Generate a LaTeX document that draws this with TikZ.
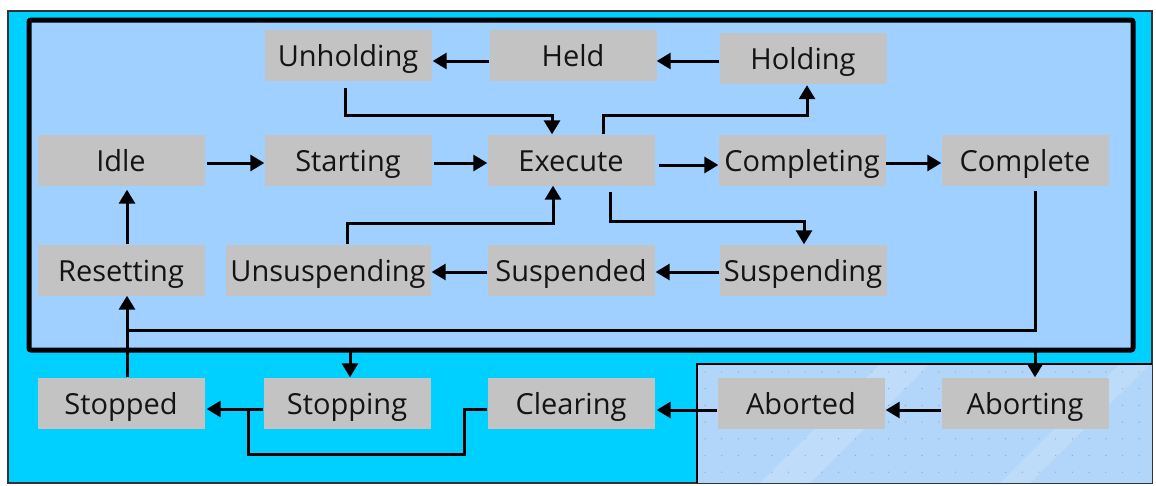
\documentclass[tikz,border=0pt]{standalone}
\usepackage{fontspec}
\setmainfont{Open Sans}
\usetikzlibrary{arrows.meta}
\definecolor{outercyan}{RGB}{0,208,255}
\definecolor{innerblue}{RGB}{160,208,255}
\definecolor{statefill}{RGB}{195,195,195}
\definecolor{panelblue}{RGB}{178,214,250}
\definecolor{statetext}{RGB}{20,20,20}

\begin{document}
\begin{tikzpicture}[x=1pt,y=-1pt,
  state/.style={fill=statefill, minimum width=167pt, minimum height=51pt,
    inner sep=0pt, text height=22pt, text depth=0pt, text=statetext,
    font=\fontsize{29}{32}\selectfont},
  flow/.style={line width=3pt, -{Triangle[length=14pt,width=16pt]}},
  plain/.style={line width=3pt}]

\useasboundingbox (0,0) rectangle (1156,485);
\fill[white] (0,0) rectangle (1156,485);

% outer frame
\draw[fill=outercyan, draw=black!80, line width=1.5pt] (8,11) rectangle (1152,483);

% lower right panel with dotted grid
\fill[panelblue] (697,364) rectangle (1152,483);
\begin{scope}
  \clip (697,364) rectangle (1152,483);
  \fill[white, opacity=0.18] (760,483) -- (880,364) -- (930,364) -- (810,483) -- cycle;
  \fill[white, opacity=0.15] (1000,483) -- (1120,364) -- (1150,364) -- (1030,483) -- cycle;
  \foreach \i in {0,...,27} {
    \foreach \j in {0,...,7} {
      \fill[gray!70] (705+\i*16.7, 372+\j*16.7) circle (0.7);
    }
  }
\end{scope}
\draw[line width=2pt] (697,483) -- (697,364) -- (1152,364);

% inner frame
\draw[fill=innerblue, line width=5pt, rounded corners=2pt] (29,20) rectangle (1133,350);
\coordinate (stopjoin) at (350,350);
\coordinate (abortjoin) at (1035,350);

% states
\node[state] (unholding) at (348,55) {Unholding};
\node[state] (held) at (573,55) {Held};
\node[state] (holding) at (803,58.5) {Holding};
\node[state] (idle) at (121,160) {Idle};
\node[state] (starting) at (348,160) {Starting};
\node[state] (execute) at (571,160) {Execute};
\node[state] (completing) at (802,160) {Completing};
\node[state] (complete) at (1025,160) {Complete};
\node[state] (resetting) at (121,270) {Resetting};
\node[state, minimum width=205pt] (unsuspending) at (328,270) {Unsuspending};
\node[state] (suspended) at (571,270) {Suspended};
\node[state] (suspending) at (803,270) {Suspending};
\node[state] (stopped) at (121,403) {Stopped};
\node[state] (stopping) at (347,403) {Stopping};
\node[state] (clearing) at (571,403) {Clearing};
\node[state] (aborted) at (801,403) {Aborted};
\node[state] (aborting) at (1025,403) {Aborting};

% hold loop
\draw[flow] ([yshift=-6pt]holding.west |- held.east) -- ([yshift=-6pt]held.east);
\draw[flow] ([yshift=-6pt]held.west) -- ([xshift=1pt,yshift=-6pt]unholding.east);
\draw[flow] ([xshift=-3pt,yshift=-7pt]unholding.south) |- (552,115) -- ([xshift=-19pt]execute.south |- execute.north);
\draw[flow] ([xshift=32pt]execute.north) |- (807,115) -- ([xshift=4pt,yshift=-1pt]holding.south);

% main sequence
\draw[flow] ([xshift=2pt,yshift=-3pt]idle.east) -- ([yshift=-3pt]starting.west);
\draw[flow] ([xshift=2pt,yshift=-3pt]starting.east) -- ([yshift=-3pt]execute.west);
\draw[flow] ([xshift=4pt,yshift=-5pt]execute.east) -- ([yshift=-5pt]completing.west);
\draw[flow] ([yshift=-3pt]completing.east) -- ([yshift=-3pt]complete.west);

% suspend loop
\draw[flow] ([xshift=39pt,yshift=-6pt]execute.south) |- (804,221) -- ([xshift=1pt]suspending.north);
\draw[flow] ([yshift=-2pt]suspending.west) -- ([xshift=1pt,yshift=-2pt]suspended.east);
\draw[flow] ([yshift=-2pt]suspended.west) -- ([xshift=1pt,yshift=-2pt]unsuspending.east);
\draw[flow] ([xshift=19pt]unsuspending.north) |- (553,223) -- ([xshift=-18pt]execute.south);

% reset path
\draw[flow] ([xshift=10pt,yshift=-5pt]complete.south) |- (127,330) -- ([xshift=6pt]resetting.south);
\draw[plain] ([xshift=6pt]stopped.north) -- (127,330);
\draw[flow] ([xshift=6pt]resetting.north) -- ([xshift=6pt,yshift=-4pt]idle.south);

% stop and abort paths
\draw[flow] (stopjoin) -- ([xshift=3pt]stopping.north);
\draw[flow] (abortjoin) -- ([xshift=10pt]aborting.north);
\draw[flow] ([yshift=-7pt]aborting.west) -- ([xshift=1pt,yshift=-7pt]aborted.east);
\draw[flow] ([yshift=-7pt]aborted.west) -- ([xshift=2pt,yshift=-7pt]clearing.east);
\draw[flow] ([yshift=-6pt]clearing.west) -- (464,409) |- (248,454) |- ([xshift=2pt,yshift=-6pt]stopped.east);
\draw[plain] ([yshift=-6pt]stopping.west) -- (248,409);
\end{tikzpicture}
\end{document}
